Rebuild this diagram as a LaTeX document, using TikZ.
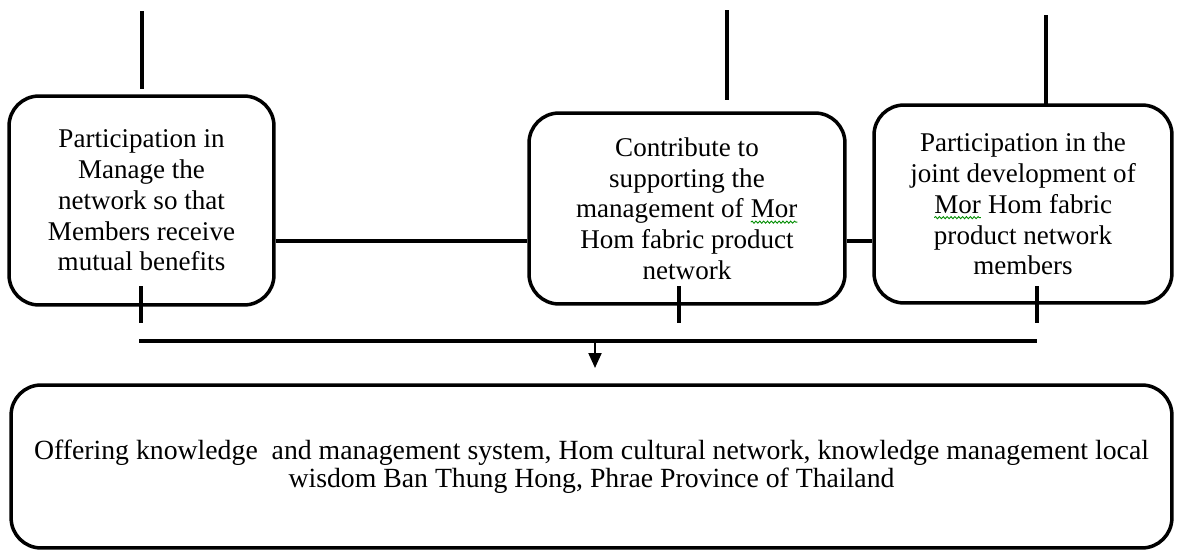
\documentclass[tikz,border=0pt]{standalone}
\usepackage{fontspec}
\setmainfont{Liberation Serif}
\usetikzlibrary{positioning,shapes,arrows.meta,calc,decorations.pathmorphing}

% spell-check squiggle under a word
\newcommand{\squig}[1]{\tikz[x=1cm, y=1cm, baseline=(w.base)]{\node[draw=none, minimum width=0pt, minimum height=0pt,
        inner sep=0pt, outer sep=0pt, rounded corners=0pt] (w) {#1};
    \draw[green!55!black, line width=0.5pt, rounded corners=0pt, decorate,
        decoration={snake, amplitude=0.6pt, segment length=2.2pt}] ([yshift=-2.5pt]w.base west) -- ([yshift=-2.5pt]w.base east);}}

\begin{document}
\begin{tikzpicture}[x=0.02cm, y=-0.02cm,
    box/.style={draw, line width=2pt, rounded corners=0.6cm, align=center, inner sep=0pt,
        font=\fontsize{15.4}{17.5}\selectfont},
    link/.style={line width=2pt}]
    \useasboundingbox (0,0) rectangle (1177,551);

    % Contribution boxes
    \node[box, minimum width=5.3cm, minimum height=4.18cm] (manage) at (141.5,200.5)
        {Participation in\\ Manage the\\ network so that\\ Members receive\\ mutual benefits};
    \node[box, minimum width=6.32cm, minimum height=3.82cm] (support) at (687,208.5)
        {Contribute to\\ supporting the\\ management of \squig{Mor}\\ Hom fabric product\\ network};
    \node[box, minimum width=5.96cm, minimum height=3.96cm] (develop) at (1023,204)
        {Participation in the\\ joint development of\\ \squig{Mor} Hom fabric\\ product network\\ members};
    % Result box
    \node[box, minimum width=23.22cm, minimum height=3.26cm, font=\fontsize{15.8}{16}\selectfont] (offer) at (591.5,466.5)
        {Offering knowledge\ \ and management system, Hom cultural network, knowledge management local\\ wisdom Ban Thung Hong, Phrae Province of Thailand};

    % Lines from above
    \foreach \name/\x/\ya/\yb in {manage/142/11/89, support/727/10/100, develop/1046/15/105} {
        \coordinate (\name top) at (\x,\ya);
        \coordinate (\name in) at (\x,\yb);
        \draw[link] (\name top) -- (\name in);
    }
    % Links between boxes
    \coordinate (midrow) at (0,241);
    \draw[link] (manage.east |- midrow) -- (support.west |- midrow);
    \draw[link] (support.east |- midrow) -- (develop.west |- midrow);

    % Ticks out of the boxes
    \foreach \name/\x in {manage/141, support/679, develop/1037} {
        \coordinate (\name out) at (\x,286);
        \coordinate (\name end) at (\x,323);
        \draw[link] (\name out) -- (\name end);
    }
    % Collecting line and arrow
    \coordinate (busL) at (139,341);
    \coordinate (busR) at (1037,341);
    \draw[link] (busL) -- (busR);
    \coordinate (drop) at (595,341);
    \coordinate (dropend) at (595,368);
    \draw[line width=1.2pt, -{Triangle[length=0.3cm, width=0.26cm]}] (drop) -- (dropend);
\end{tikzpicture}
\end{document}
